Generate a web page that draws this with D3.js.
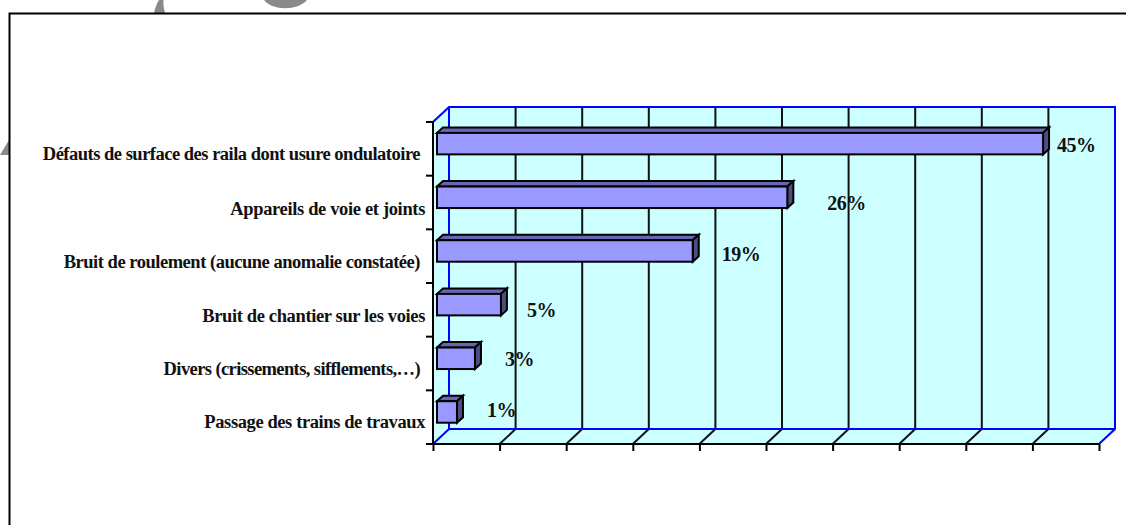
<!DOCTYPE html>
<html><head><meta charset="utf-8">
<style>html,body{margin:0;padding:0;background:#fff}svg{display:block}
text{font-family:"Liberation Serif",serif;font-weight:bold;fill:#111}</style>
<script src="https://cdn.jsdelivr.net/npm/d3@7"></script></head><body>
<svg id="c" width="1126" height="525"></svg>
<script>
const categories = ["Défauts de surface des raila dont usure ondulatoire","Appareils de voie et joints","Bruit de roulement (aucune anomalie constatée)","Bruit de chantier sur les voies","Divers (crissements, sifflements,…)","Passage des trains de travaux"];
const values = [45.5,26.3,19.2,4.8,2.85,1.5];
const valueLabels = ["45%","26%","19%","5%","3%","1%"];
const xTicks = [0,5,10,15,20,25,30,35,40,45,50];

const svg = d3.select("#c");
const x = d3.scaleLinear().domain([0,50]).range([433,1099]);
const y = d3.scaleBand().domain(categories).range([122,444]);
const depthX = 16, depthY = 15, barDX = 6, barDY = 5.5, barInset = 4, barH = 21.5;
const [x0,x1] = x.range(), [yT,yB] = y.range();
const poly = pts => "M"+pts.map(p=>p.join(",")).join("L")+"Z";

// decorative grey background shapes clipped by the frame
svg.append("path").attr("d","M154,13 C155,8 157,3 159,0 L163.5,0 C163,4 164,9 165,13 Z").attr("fill","#8a8a8a");
svg.append("path").attr("d","M264,0 C272,11 298,11 307,0 Z").attr("fill","#8a8a8a");
svg.append("path").attr("d","M0,155 L9,140 L9,155 Z").attr("fill","#8a8a8a");

// frame
svg.append("path").attr("d","M1126,13.5H9.5V525").attr("fill","none").attr("stroke","#000").attr("stroke-width",2);

// walls
svg.append("path").attr("d",poly([[x0+depthX,yT-depthY],[x1+depthX,yT-depthY],[x1+depthX,yB-depthY],[x0+depthX,yB-depthY]])).attr("fill","#ccffff");
svg.append("path").attr("d",poly([[x0,yT],[x0+depthX,yT-depthY],[x0+depthX,yB-depthY],[x0,yB]])).attr("fill","#ccffff");
svg.append("path").attr("d",poly([[x0,yB],[x0+depthX,yB-depthY],[x1+depthX,yB-depthY],[x1,yB]])).attr("fill","#ccffff");

// grid on back wall + floor diagonals
const grid = xTicks.slice(1,-1);
svg.append("g").selectAll("line").data(grid).join("line")
  .attr("x1",d=>x(d)+depthX).attr("x2",d=>x(d)+depthX).attr("y1",yT-depthY).attr("y2",yB-depthY)
  .attr("stroke","#111").attr("stroke-width",2);
svg.append("g").selectAll("line").data(grid).join("line")
  .attr("x1",d=>x(d)).attr("x2",d=>x(d)+depthX).attr("y1",yB).attr("y2",yB-depthY)
  .attr("stroke","#111").attr("stroke-width",2);

// blue wall edges
svg.append("path").attr("d",`M${x0},${yT}L${x0+depthX},${yT-depthY}H${x1+depthX}V${yB-depthY}L${x1},${yB}M${x0},${yB}L${x0+depthX},${yB-depthY}H${x1+depthX}M${x0+depthX},${yT-depthY}V${yB-depthY}`)
  .attr("fill","none").attr("stroke","#0000ff").attr("stroke-width",2);

// axes
const axB = svg.append("g").attr("transform",`translate(0,${yB})`).call(d3.axisBottom(x).tickValues(xTicks).tickSize(7).tickFormat(""));
axB.selectAll("path").attr("d",`M${x0},0H${x1}`).attr("stroke","#000").attr("stroke-width",2);
axB.selectAll("line").attr("stroke","#000").attr("stroke-width",2);
const axL = svg.append("g");
axL.append("line").attr("x1",x0).attr("x2",x0).attr("y1",yT).attr("y2",yB).attr("stroke","#000").attr("stroke-width",2);
axL.selectAll("line.t").data(d3.range(categories.length+1)).join("line").attr("class","t")
  .attr("x1",x0-7).attr("x2",x0).attr("y1",i=>yT+i*y.step()).attr("y2",i=>yT+i*y.step()).attr("stroke","#000").attr("stroke-width",2);

// bars
const bars = svg.append("g").selectAll("g").data(categories).join("g");
const bx = x0+barInset;
const by = c => y(c)+y.bandwidth()/2 - barH/2 - 5.2;
const bw = (c,i) => x(values[i])-x0;
const st = s => s.attr("stroke","#000").attr("stroke-width",2).attr("stroke-linejoin","miter");
st(bars.append("path").attr("fill","#6666b3").attr("d",(c,i)=>poly([[bx,by(c)],[bx+barDX,by(c)-barDY],[bx+bw(c,i)+barDX,by(c)-barDY],[bx+bw(c,i),by(c)]])));
st(bars.append("path").attr("fill","#4d4d80").attr("d",(c,i)=>poly([[bx+bw(c,i),by(c)],[bx+bw(c,i)+barDX,by(c)-barDY],[bx+bw(c,i)+barDX,by(c)+barH-barDY],[bx+bw(c,i),by(c)+barH]])));
st(bars.append("rect").attr("fill","#9999ff").attr("x",bx).attr("y",by).attr("width",bw).attr("height",barH));

// category labels
const catBase = [160,215,268,322,375,428];
const catSpacing = [-0.5,-0.35,-0.48,-0.37,-0.6,-0.4];
svg.append("g").selectAll("text").data(categories).join("text")
  .attr("x",(c,i)=> i%2 ? 425 : 420)
  .attr("y",(c,i)=>catBase[i])
  .attr("text-anchor","end").attr("font-size",18.5).attr("letter-spacing",(c,i)=>catSpacing[i])
  .text(d=>d);

// value labels
const labelDX = [9,35,24,21,25,25];
const labelY = [152,210,261,317,366,417];
svg.append("g").selectAll("text").data(valueLabels).join("text")
  .attr("x",(d,i)=>bx+x(values[i])-x0+barDX+labelDX[i]-1)
  .attr("y",(d,i)=>labelY[i])
  .attr("font-size",20).attr("letter-spacing",-0.5)
  .text(d=>d);
</script></body></html>
